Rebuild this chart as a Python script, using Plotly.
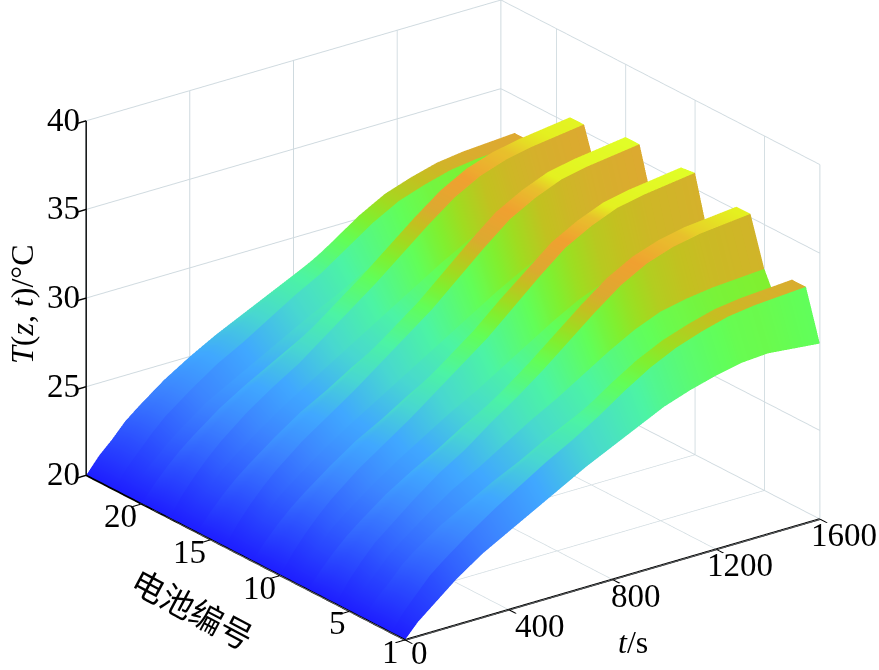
import numpy as np
import plotly.graph_objects as go

# time points (s) and battery numbers
times = [0, 50, 100, 150, 200, 300, 400, 500, 600, 700, 800, 900, 1000, 1100, 1200, 1300, 1400, 1600]
batteries = list(range(1, 25))

# temperature per battery
T01 = [20, 20.8, 21.4, 22.0, 22.6, 23.6, 24.4, 25.2, 26.0, 26.8, 27.5, 28.2, 28.9, 29.4, 29.8, 30.1, 30.2, 29.9]
T02 = [20, 21.0, 21.8, 22.6, 23.2, 24.3, 25.3, 26.2, 27.1, 27.9, 28.8, 29.8, 30.7, 31.4, 31.9, 32.3, 32.5, 32.7]
T03 = [20, 21.0, 21.8, 22.6, 23.2, 24.3, 25.3, 26.2, 27.1, 27.9, 28.8, 29.8, 30.7, 31.4, 31.9, 32.3, 32.5, 32.7]
T04 = [20, 20.9, 21.6, 22.4, 23.0, 24.0, 24.8, 25.6, 26.3, 27.1, 27.8, 28.5, 29.2, 29.8, 30.2, 30.4, 30.6, 30.8]
T05 = [20, 20.9, 21.7, 22.5, 23.1, 24.2, 25.2, 26.0, 26.9, 27.8, 28.6, 29.5, 30.4, 31.2, 31.8, 32.1, 32.3, 32.5]
T06 = [20, 21.1, 22.0, 22.8, 23.4, 24.6, 25.7, 26.6, 27.7, 28.7, 29.8, 31.0, 32.2, 33.3, 34.1, 34.6, 34.9, 35.2]
T07 = [20, 21.1, 22.0, 22.8, 23.4, 24.6, 25.7, 26.6, 27.7, 28.7, 29.8, 31.0, 32.2, 33.3, 34.1, 34.6, 34.9, 35.2]
T08 = [20, 20.9, 21.7, 22.4, 23.0, 24.1, 25.0, 25.8, 26.7, 27.5, 28.3, 29.2, 30.0, 30.7, 31.3, 31.6, 31.8, 32.0]
T09 = [20, 20.9, 21.7, 22.5, 23.1, 24.2, 25.2, 26.1, 27.0, 27.8, 28.7, 29.6, 30.5, 31.3, 31.9, 32.2, 32.4, 32.6]
T10 = [20, 21.1, 22.0, 22.8, 23.5, 24.7, 25.7, 26.7, 27.8, 28.9, 30.0, 31.3, 32.6, 33.8, 34.6, 35.2, 35.5, 35.9]
T11 = [20, 21.1, 22.0, 22.8, 23.5, 24.7, 25.7, 26.7, 27.8, 28.9, 30.0, 31.3, 32.5, 33.7, 34.5, 35.1, 35.4, 35.8]
T12 = [20, 20.9, 21.7, 22.4, 23.0, 24.1, 25.1, 25.9, 26.8, 27.6, 28.5, 29.4, 30.2, 30.9, 31.5, 31.8, 32.0, 32.2]
T13 = [20, 20.9, 21.7, 22.5, 23.1, 24.2, 25.2, 26.1, 27.0, 27.9, 28.8, 29.7, 30.6, 31.4, 32.1, 32.4, 32.6, 32.8]
T14 = [20, 21.1, 22.0, 22.8, 23.5, 24.7, 25.7, 26.7, 27.8, 28.9, 30.0, 31.3, 32.6, 33.8, 34.6, 35.2, 35.5, 35.9]
T15 = [20, 21.1, 22.0, 22.8, 23.5, 24.7, 25.7, 26.7, 27.8, 28.9, 30.0, 31.3, 32.6, 33.8, 34.6, 35.2, 35.5, 35.9]
T16 = [20, 20.9, 21.7, 22.4, 23.0, 24.1, 25.1, 25.9, 26.8, 27.6, 28.5, 29.4, 30.2, 30.9, 31.5, 31.8, 32.0, 32.2]
T17 = [20, 20.9, 21.7, 22.5, 23.1, 24.2, 25.2, 26.1, 27.0, 27.9, 28.8, 29.7, 30.6, 31.4, 32.1, 32.4, 32.6, 32.8]
T18 = [20, 21.1, 22.0, 22.8, 23.5, 24.7, 25.7, 26.6, 27.7, 28.8, 29.9, 31.1, 32.3, 33.4, 34.2, 34.7, 35.0, 35.4]
T19 = [20, 21.1, 22.0, 22.8, 23.5, 24.7, 25.7, 26.6, 27.7, 28.8, 29.9, 31.1, 32.3, 33.4, 34.2, 34.7, 35.0, 35.4]
T20 = [20, 20.9, 21.7, 22.4, 23.0, 24.1, 25.0, 25.8, 26.6, 27.4, 28.2, 29.1, 29.9, 30.6, 31.1, 31.4, 31.6, 31.8]
T21 = [20, 20.9, 21.6, 22.3, 22.9, 24.0, 24.8, 25.6, 26.4, 27.2, 27.9, 28.7, 29.4, 30.0, 30.4, 30.6, 30.8, 31.0]
T22 = [20, 21.0, 21.8, 22.6, 23.3, 24.4, 25.4, 26.2, 27.1, 28.0, 28.8, 29.8, 30.8, 31.6, 32.1, 32.5, 32.7, 32.9]
T23 = [20, 21.0, 21.8, 22.6, 23.3, 24.4, 25.4, 26.2, 27.1, 28.0, 28.8, 29.8, 30.8, 31.6, 32.1, 32.5, 32.7, 32.9]
T24 = [20, 20.9, 21.6, 22.4, 23.0, 24.1, 25.0, 25.8, 26.5, 27.2, 27.9, 28.6, 29.2, 29.7, 30.0, 30.2, 30.3, 30.0]

rows = [T01, T02, T03, T04, T05, T06, T07, T08, T09, T10, T11, T12,
        T13, T14, T15, T16, T17, T18, T19, T20, T21, T22, T23, T24]

time_ticks = [0, 400, 800, 1200, 1600]
battery_ticks = [1, 5, 10, 15, 20]
temp_ticks = [20, 25, 30, 35, 40]

temp_stops = [20, 22, 24, 25.5, 27, 28.5, 30, 30.8, 31.4, 32.2, 32.8, 34, 34.8, 35.2, 36]
stop_colors = ["#1e1eff", "#2c50ff", "#3c84ff", "#40a8ff", "#48d8d0", "#4cf4a4", "#62fe58", "#80f030",
               "#a0dc20", "#c4c020", "#dcaa30", "#f0a030", "#e8c02c", "#e4f020", "#e0ff28"]

z_min, z_max = temp_stops[0], temp_stops[-1]
colorscale = [[(t - z_min) / (z_max - z_min), c] for t, c in zip(temp_stops, stop_colors)]

# every strip between two batteries takes one colour across it (flat shaded),
# so each battery row is doubled: end of the previous strip, start of the next
temp = np.array(rows, dtype=float)
row_y, row_z, row_c = [], [], []
for i, b in enumerate(batteries):
    if i > 0:
        row_y.append(b)
        row_z.append(temp[i])
        row_c.append(temp[i - 1])
    row_y.append(b + 0.01 if i > 0 else b)
    row_z.append(temp[i])
    row_c.append(temp[i])

fig = go.Figure(go.Surface(
    x=times, y=row_y, z=np.array(row_z), surfacecolor=np.array(row_c),
    colorscale=colorscale, cmin=z_min, cmax=z_max, showscale=False,
    lighting=dict(ambient=1, diffuse=0, specular=0, roughness=1, fresnel=0),
    hoverinfo="skip",
))

axis_common = dict(
    showbackground=False, showgrid=True, gridcolor="#cfdadf", gridwidth=2,
    showline=True, linecolor="black", linewidth=4, zeroline=False,
    ticks="inside", ticklen=12, tickcolor="black", tickwidth=3,
    showticklabels=False, title=dict(text=""), showspikes=False,
)

# tick labels as scene annotations, 3d axis labels cannot be sized like this
tick_font = dict(family="Liberation Serif", size=33, color="black")
labels = []
for v in temp_ticks:
    labels.append(dict(x=0, y=24, z=v, text=str(v), showarrow=False, xshift=-4, yshift=1, font=tick_font,
                       xanchor="right"))
for v in battery_ticks:
    shift = {1: -15, 5: -12}.get(v, -21)
    labels.append(dict(x=0, y=v, z=20, text=str(v), showarrow=False, xshift=shift, yshift=-12, font=tick_font))
for v in time_ticks:
    shift = {0: 14, 400: 31}.get(v, 24)
    lift = -13 if v == 0 else -16
    labels.append(dict(x=v, y=1, z=20, text=str(v), showarrow=False, xshift=shift, yshift=lift, font=tick_font))

fig.update_layout(
    width=879, height=670,
    margin=dict(l=0, r=0, t=0, b=0),
    paper_bgcolor="white",
    font=dict(family="Liberation Serif", color="black"),
    scene=dict(
        domain=dict(x=[0, 1], y=[0, 1]),
        xaxis=dict(axis_common, range=[0, 1600], tickvals=time_ticks),
        yaxis=dict(axis_common, range=[1, 24], tickvals=battery_ticks),
        zaxis=dict(axis_common, range=[20, 40], tickvals=temp_ticks),
        aspectmode="manual",
        aspectratio=dict(x=1.549, y=1.585, z=1.148),
        camera=dict(
            projection=dict(type="orthographic"),
            eye=dict(x=-1.23, y=-1.57, z=0.79),
            center=dict(x=-0.0317, y=0.0248, z=-0.049),
            up=dict(x=0, y=0, z=1),
        ),
        annotations=labels,
    ),
    annotations=[
        dict(text="<i>T</i>(<i>z</i>, <i>t</i>)/°C", x=22 / 879, y=1 - 305 / 670, xref="paper", yref="paper",
             xanchor="center", yanchor="middle",
             showarrow=False, textangle=-90, font=dict(family="Liberation Serif", size=32)),
        dict(text="电池编号", x=193 / 879, y=1 - 608 / 670, xref="paper", yref="paper",
             xanchor="center", yanchor="middle",
             showarrow=False, textangle=28, font=dict(family="Noto Sans CJK SC", size=33)),
        dict(text="<i>t</i>/s", x=633 / 879, y=1 - 642 / 670, xref="paper", yref="paper",
             xanchor="center", yanchor="middle",
             showarrow=False, font=dict(family="Liberation Serif", size=32)),
    ],
)

# page default body margin would push the figure 8px off the window
fig.write_html("out.html", config=dict(displayModeBar=False),
               post_script="document.body.style.margin = '0';")
